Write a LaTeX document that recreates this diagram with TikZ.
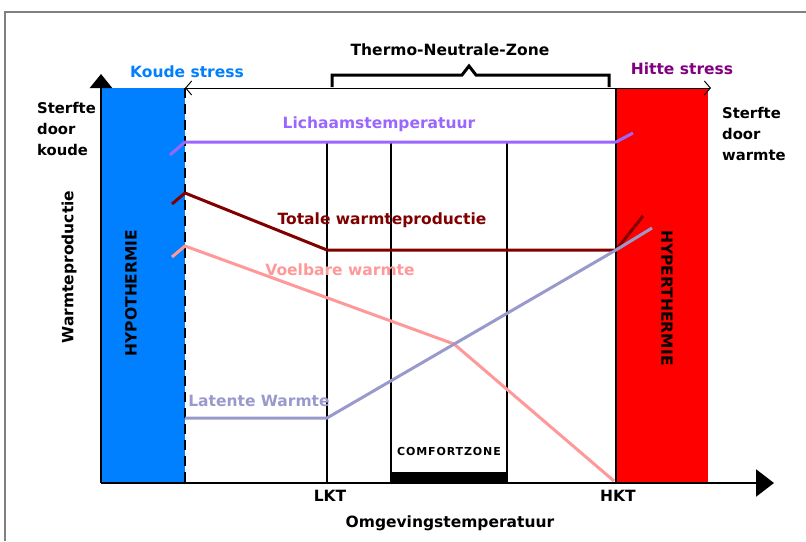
\documentclass[tikz,border=0pt]{standalone}
\usepackage{fontspec}
\setmainfont{DejaVu Sans}
\usetikzlibrary{arrows.meta}
\definecolor{myblue}{RGB}{0,128,255}
\definecolor{hitte}{RGB}{128,0,128}
\definecolor{lichaam}{RGB}{153,102,255}
\definecolor{totale}{RGB}{128,0,0}
\definecolor{voelbaar}{RGB}{255,153,153}
\definecolor{latent}{RGB}{153,153,204}
\begin{document}
\begin{tikzpicture}[x=1pt,y=-1pt,
  lbl/.style={font=\bfseries\fontsize{15.5}{21}\selectfont, inner sep=0pt},
  side/.style={font=\bfseries\fontsize{14.8}{21}\selectfont, inner sep=0pt, align=left, anchor=north west},
  curve/.style={line width=3pt, line join=round},
  vline/.style={line width=2pt, black},
  axis/.style={line width=2.5pt, black}]
\useasboundingbox (0,0) rectangle (806,541);
% frame
\draw[gray, line width=1.2pt] (5,541) -- (5,12) -- (806,12);
% zones
\fill[myblue] (101,88) rectangle (185,483);
\fill[red] (616,88) rectangle (708,483);
% coordinates
\coordinate (o) at (101,483);
\coordinate (ytop) at (101,74);
\coordinate (xend) at (774,483);
\coordinate (d0) at (185,88);
\coordinate (d1) at (185,483);
\coordinate (hk0) at (616,88);
\coordinate (hk1) at (616,483);
\coordinate (lkt0) at (327,142);
\coordinate (lkt1) at (327,483);
\coordinate (c0) at (391,142);
\coordinate (c1) at (391,483);
\coordinate (e0) at (507,142);
\coordinate (e1) at (507,483);
\coordinate (tl) at (185,88);
\coordinate (tr) at (711,88);
% vertical lines
\draw[vline] (lkt0) -- (lkt1);
\draw[vline] (c0) -- (c1);
\draw[vline] (e0) -- (e1);
\draw[vline] (hk0) -- (hk1);
\draw[line width=2.5pt, dash pattern=on 10pt off 6pt] (d0) -- (d1);
\fill[black] (391,472) rectangle (507,483);
% top double arrow
\draw[line width=1pt, {Straight Barb[length=6pt,width=14pt]}-{Straight Barb[length=6pt,width=14pt]}] (tl) -- (tr);
% bracket
\coordinate (b0) at (332,87);
\coordinate (b1) at (609,87);
\draw[line width=3pt, line join=miter] (b0) -- (332,75) -- (462,75) -- (469,66) -- (476,75) -- (609,75) -- (b1);
% body temperature
\coordinate (l0) at (170,155);
\coordinate (l1) at (185,142);
\coordinate (l2) at (616,142);
\coordinate (l3) at (633,133);
\draw[curve, lichaam] (l0) -- (l1) -- (l2) -- (l3);
% totale warmteproductie
\coordinate (t0) at (172,204);
\coordinate (t1) at (185,193);
\coordinate (t2) at (327,250);
\coordinate (t3) at (616,250);
\coordinate (t4) at (643,216);
\draw[curve, totale] (t0) -- (t1) -- (t2) -- (t3) -- (t4);
% voelbare warmte
\coordinate (v0) at (172,257);
\coordinate (v1) at (185,246);
\coordinate (v2) at (454,344);
\coordinate (v3) at (614,481);
\draw[curve, voelbaar] (v0) -- (v1) -- (v2) -- (v3);
% latente warmte
\coordinate (w1) at (185,418);
\coordinate (w2) at (327,418);
\coordinate (w3) at (616,250);
\coordinate (w4) at (652,228);
\draw[curve, latent] (w1) -- (w2) -- (w3) -- (w4);
% axes
\draw[axis, -{Triangle[length=14pt,width=22pt]}] (o) -- (ytop);
\draw[axis, -{Triangle[length=18pt,width=27pt]}] (o) -- (xend);
% labels
\node[lbl] (tnz) at (450,50) {Thermo-Neutrale-Zone};
\node[lbl, myblue] (ks) at (187,72) {Koude stress};
\node[lbl, hitte] (hs) at (682,69) {Hitte stress};
\node[side] (sk) at (37,102) {Sterfte\\door\\koude};
\node[side] (sw) at (722,107) {Sterfte\\door\\warmte};
\node[lbl, rotate=90] (wp) at (69,267) {Warmteproductie};
\node[lbl, rotate=90] (hypo) at (131,293) {HYPOTHERMIE};
\node[lbl, rotate=-90] (hyper) at (667,298) {HYPERTHERMIE};
\node[lbl, lichaam] (lt) at (379,124) {Lichaamstemperatuur};
\node[lbl, totale] (tw) at (382,220) {Totale warmteproductie};
\node[lbl, voelbaar] (vw) at (340,270) {Voelbare warmte};
\node[lbl, latent] (lw) at (259,401) {Latente Warmte};
\node[inner sep=0pt, font=\bfseries\fontsize{11}{13}\selectfont\addfontfeature{LetterSpace=8}] (cz) at (449,451) {COMFORTZONE};
\node[lbl] (lkt) at (330,496) {LKT};
\node[lbl] (hkt) at (618,496) {HKT};
\node[lbl] (om) at (450,523) {Omgevingstemperatuur};
\end{tikzpicture}
\end{document}
